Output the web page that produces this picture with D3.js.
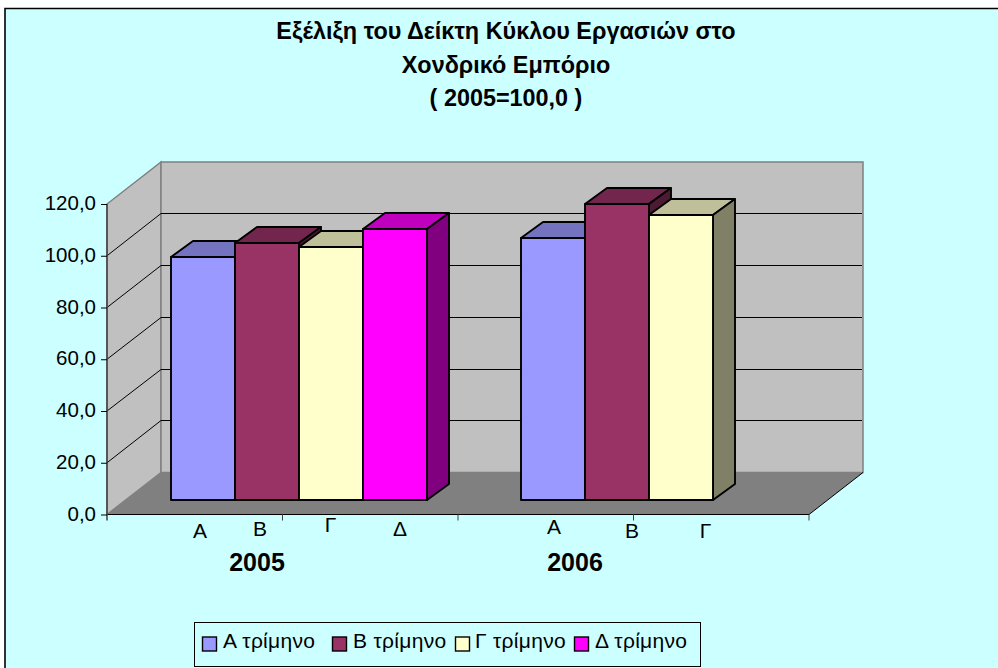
<!DOCTYPE html>
<html><head><meta charset="utf-8">
<script src="https://cdn.jsdelivr.net/npm/d3@7"></script>
<style>html,body{margin:0;padding:0;background:#fff}svg{display:block}text{font-family:"Liberation Sans",Arial,sans-serif;fill:#000}</style>
</head><body><svg id="c" width="998" height="668"></svg>
<script>
const years = ["2005","2006"];
const quarters = ["Α τρίμηνο","Β τρίμηνο","Γ τρίμηνο","Δ τρίμηνο"];
const values2005 = [94.2,99.6,98.1,104.9];
const values2006 = [101.3,114.5,110.5];
const yTicks = [0,20,40,60,80,100,120];
const titleLines = ["Εξέλιξη του Δείκτη Κύκλου Εργασιών στο","Χονδρικό Εμπόριο","( 2005=100,0 )"];
const catLabels = ["Α","Β","Γ","Δ","Α","Β","Γ"];
const fills = ["#9999FF","#993366","#FFFFCC","#FF00FF"];
const tops = ["#7373BF","#73264D","#BFBF99","#BF00BF"];
const sides = ["#4D4D80","#4D1A33","#808066","#800080"];

const svg = d3.select("#c");
const y = d3.scaleLinear().domain([0,120]).range([514.5,204]);
const x0 = d3.scaleBand().domain(years).range([108,809]);
const bw = 64, depX = 54, depY = 42, barX = 22, barY = 16, baseY = 14;
const baseShift = baseY/depY*depX, groupPad = 44.9;
const poly = pts => pts.map(p=>p.join(",")).join(" ");

svg.append("rect").attr("x",5).attr("y",8).attr("width",993).attr("height",660).attr("fill","#CCFFFF");
svg.append("path").attr("fill","none").attr("stroke","#000").attr("stroke-width",1.6).attr("d","M5,668V8.5H998");

// walls
const x1=107,x2=809,y0=y(0),yT=y(120);
svg.append("polygon").attr("points",poly([[x1,y0],[x1+depX,y0-depY],[x1+depX,yT-depY],[x1,yT]])).attr("fill","#C0C0C0").attr("stroke","#808080").attr("stroke-width",1.5);
svg.append("polygon").attr("points",poly([[x1+depX,y0-depY],[x2+depX,y0-depY],[x2+depX,yT-depY],[x1+depX,yT-depY]])).attr("fill","#C0C0C0").attr("stroke","#808080").attr("stroke-width",1.5);
svg.append("polygon").attr("points",poly([[x1,y0],[x2,y0],[x2+depX,y0-depY],[x1+depX,y0-depY]])).attr("fill","#808080");

// gridlines
yTicks.filter(t=>t>0&&t<120).forEach(t=>{
  const by = Math.floor(y(t)-depY)+.5;
  svg.append("path").attr("fill","none").attr("stroke","#000").attr("stroke-width",1)
    .attr("d",`M${x1},${y(t)}L${x1+depX},${by}L${x2+depX-1},${by}`);
});
// axes front edges
svg.append("path").attr("fill","none").attr("stroke","#000").attr("stroke-width",1)
  .attr("d",`M${x2},${y0}L${x2+depX},${y0-depY}`);
svg.append("line").attr("x1",x1).attr("x2",x2).attr("y1",y0).attr("y2",y0).attr("stroke","#000").attr("stroke-width",1.2);
svg.append("line").attr("x1",x1).attr("x2",x1).attr("y1",yT).attr("y2",y0+6).attr("stroke","#404040").attr("stroke-width",1.5);
const axisL = d3.axisLeft(y).tickValues(yTicks).tickSize(6).tickPadding(4).tickFormat(d=>d3.format(".1f")(d).replace(".",","));
const gL = svg.append("g").attr("transform",`translate(${x1},0)`).call(axisL);
gL.select(".domain").remove();
gL.selectAll("line").attr("stroke","#000");
gL.selectAll("text").attr("font-size","20.5px").attr("dx","-1px").attr("dy","0.27em").attr("font-family",null);
// bottom ticks
const xTickScale = d3.scaleLinear().domain([0,4]).range([x1,x2]);
d3.range(1,5).forEach(i=>{
  svg.append("line").attr("x1",xTickScale(i)).attr("x2",xTickScale(i)).attr("y1",y0).attr("y2",y0+6).attr("stroke","#404040");
});

// bars
function drawBars(year, vals){
  vals.forEach((v,i)=>{
    const xl = Math.round(x0(year)+groupPad+baseShift)+i*bw, xr = xl+bw;
    const yb = Math.floor(y(0)-baseY), yt = Math.round(y(0)-baseY-(y(0)-y(v)));
    const g = svg.append("g").attr("stroke","#000").attr("stroke-width",1.9).attr("stroke-linejoin","round");
    g.append("polygon").attr("points",poly([[xl,yt],[xr,yt],[xr+barX,yt-barY],[xl+barX,yt-barY]])).attr("fill",tops[i]);
    g.append("polygon").attr("points",poly([[xr,yt],[xr+barX,yt-barY],[xr+barX,yb-barY],[xr,yb]])).attr("fill",sides[i]);
    g.append("rect").attr("x",xl).attr("y",yt).attr("width",bw).attr("height",yb-yt).attr("fill",fills[i]);
  });
}
drawBars("2005",values2005);
drawBars("2006",values2006);

// title
const titleX=506;
titleLines.forEach((t,i)=>svg.append("text").attr("x",titleX).attr("y",[39,73,106][i]).attr("text-anchor","middle").attr("font-size","23.4px").attr("font-weight","bold").text(t));

// category labels (hand placed in the source)
const labelPos=[[200,538],[260,535.5],[330.5,531.5],[400,535.5],[554,534],[632,538],[705.5,538]];
catLabels.forEach((t,i)=>svg.append("text").attr("x",labelPos[i][0]).attr("y",labelPos[i][1]).attr("text-anchor","middle").attr("font-size","21px").text(t));
[[257,571],[575,571]].forEach((p,i)=>svg.append("text").attr("x",p[0]).attr("y",p[1]).attr("text-anchor","middle").attr("font-size","25px").attr("font-weight","bold").text(years[i]));

// legend
svg.append("rect").attr("x",194.5).attr("y",622.5).attr("width",506).attr("height",44).attr("fill","#CCFFFF").attr("stroke","#000").attr("stroke-width",1);
const legX=[202,332,455,574];
const legTextX=[223,353,475,595];
quarters.forEach((q,i)=>{
  svg.append("rect").attr("x",legX[i]+.5).attr("y",637).attr("width",14).attr("height",14).attr("fill",fills[i]).attr("stroke","#000").attr("stroke-width",1.4);
  svg.append("text").attr("x",legTextX[i]).attr("y",648).attr("font-size","21px").attr("letter-spacing","0.3px").text(q);
});
</script></body></html>
